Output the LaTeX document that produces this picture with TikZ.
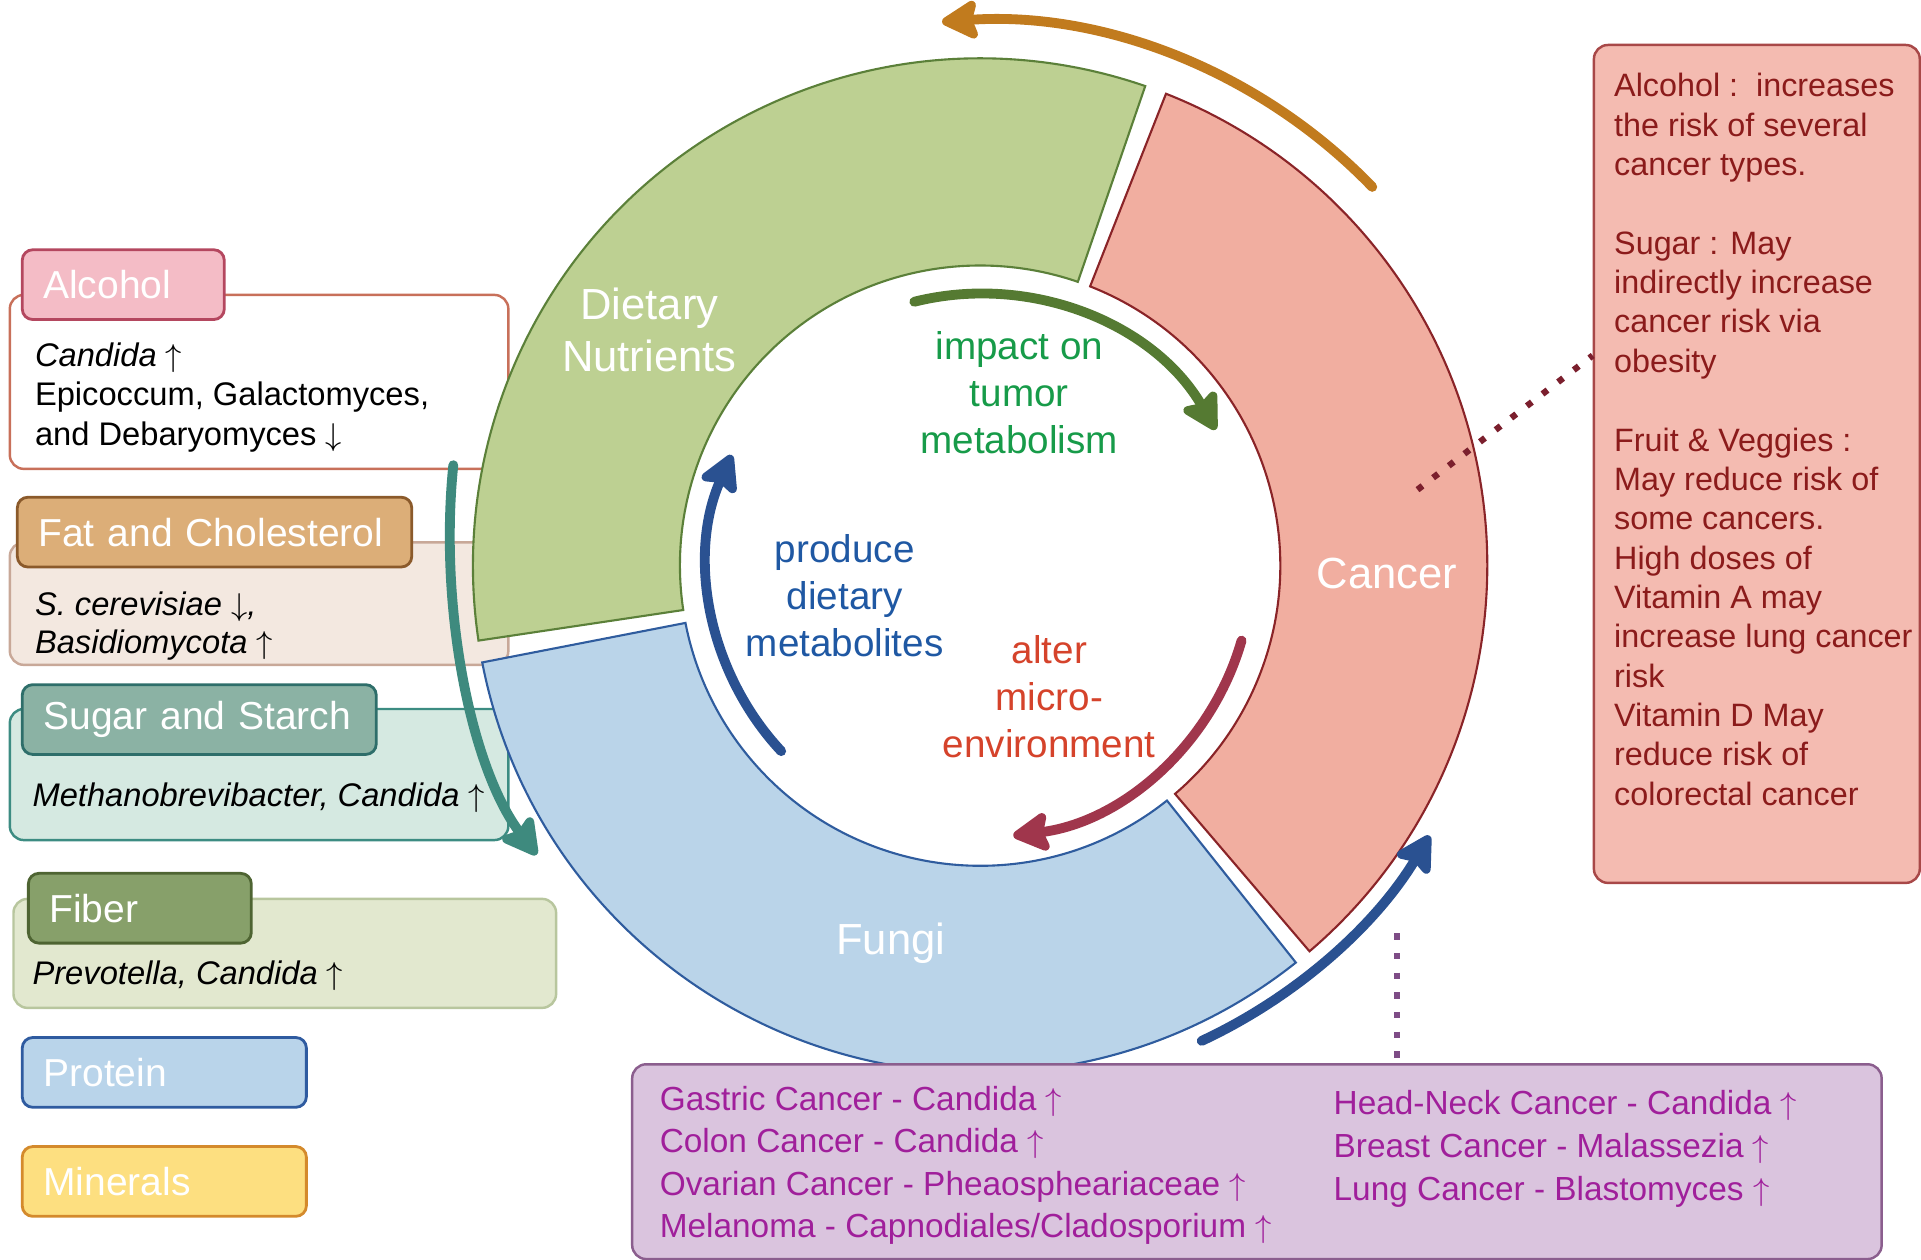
\documentclass[tikz,border=0pt]{standalone}
\usepackage{fontspec}
\setmainfont{Liberation Sans}
\usepackage{xcolor}
\usepackage{tikz}
\usetikzlibrary{calc, arrows.meta, positioning}

\definecolor{alcfill}{HTML}{F4BCC6}
\definecolor{alcline}{HTML}{B4475F}
\definecolor{alcbody}{HTML}{C8705A}
\definecolor{fatfill}{HTML}{DCAE78}
\definecolor{fatline}{HTML}{8B5A2B}
\definecolor{fatbody}{HTML}{F3E8E0}
\definecolor{fatbodyline}{HTML}{C8A898}
\definecolor{sugfill}{HTML}{8BB2A4}
\definecolor{sugline}{HTML}{2E6E6A}
\definecolor{sugbody}{HTML}{D5E9E1}
\definecolor{sugbodyline}{HTML}{3C8C82}
\definecolor{fibfill}{HTML}{87A06A}
\definecolor{fibline}{HTML}{4E6432}
\definecolor{fibbody}{HTML}{E2E8CF}
\definecolor{fibbodyline}{HTML}{B8C69E}
\definecolor{profill}{HTML}{B9D4EA}
\definecolor{proline}{HTML}{2F5BA0}
\definecolor{minfill}{HTML}{FDDF80}
\definecolor{minline}{HTML}{D48A2C}
\definecolor{nutfill}{HTML}{BDD092}
\definecolor{nutline}{HTML}{5B8039}
\definecolor{canfill}{HTML}{F1AEA0}
\definecolor{canline}{HTML}{8A2428}
\definecolor{funfill}{HTML}{BAD4E9}
\definecolor{funline}{HTML}{2F5C9E}
\definecolor{riskfill}{HTML}{F4BBB1}
\definecolor{riskline}{HTML}{A84848}
\definecolor{risktext}{HTML}{8B1B1B}
\definecolor{typefill}{HTML}{DAC4DE}
\definecolor{typeline}{HTML}{8B5E8E}
\definecolor{typetext}{HTML}{A01F9B}
\definecolor{orangearrow}{HTML}{C17B1E}
\definecolor{greenarrow}{HTML}{557A32}
\definecolor{bluearrow}{HTML}{2A5191}
\definecolor{redarrow}{HTML}{A0364C}
\definecolor{tealarrow}{HTML}{3E8A7E}
\definecolor{greentext}{HTML}{179B49}
\definecolor{bluetext}{HTML}{1F58A3}
\definecolor{redtext}{HTML}{D5432B}
\definecolor{dotred}{HTML}{7B1F2D}
\definecolor{dotpurple}{HTML}{7E4C86}

\newcommand{\fungiup}{$\uparrow$}
\newcommand{\fungidown}{$\downarrow$}

\tikzset{
    headnode/.style = {draw, rectangle, rounded corners=3pt, line width=0.8pt, anchor=north west,
      inner xsep=6pt, inner ysep=0pt, minimum height=0.698cm, align=left, text=white,
      font=\fontsize{11.1}{13}\selectfont},
    bodynode/.style = {draw, rectangle, rounded corners=4pt, line width=0.7pt, anchor=north west, inner sep=0pt},
    textnode/.style = {draw=none, fill=none, inner sep=0pt, anchor=west, align=left,
      font=\fontsize{9.3}{11.2}\selectfont},
    segment/.style = {line width=0.6pt},
    ringtext/.style = {text=white, align=center, font=\fontsize{12.4}{15}\selectfont},
    innertext/.style = {align=center, font=\fontsize{11}{13.4}\selectfont},
    connect/.style = {line width=2.8pt, line cap=round,
      -{Stealth[length=12pt, width=13pt, inset=2pt, round]}},
    dotline/.style = {line width=1.8pt, dash pattern=on 1.8pt off 3.8pt}
}

\begin{document}
\begin{tikzpicture}[x=0.012251cm, y=0.012251cm]
    \useasboundingbox (0,0) rectangle (1568,1027.7);

    \node [bodynode, name=alcbox, fill=white, draw=alcbody, minimum width=4.986cm, minimum height=1.740cm] at (7,788) {};
    \node [headnode, name=alcohol, fill=alcfill, draw=alcline, text width=1.599cm] at (17,825) {Alcohol};
    \node [textnode, name=alctext] at (28,703.5) {\textit{Candida} \fungiup\\Epicoccum, Galactomyces,\\and Debaryomyces \fungidown};

    \node [bodynode, name=fatbox, fill=fatbody, draw=fatbodyline, minimum width=4.986cm, minimum height=1.225cm] at (7,586) {};
    \node [headnode, name=fat, fill=fatfill, draw=fatline, text width=3.523cm] at (13,623) {Fat and Cholesterol};
    \node [textnode, name=fattext, font=\fontsize{9.3}{10.8}\selectfont\itshape] at (28,516.5) {S. cerevisiae \fungidown,\\Basidiomycota \fungiup};

    \node [bodynode, name=sugbox, fill=sugbody, draw=sugbodyline, minimum width=4.986cm, minimum height=1.311cm] at (7,450) {};
    \node [headnode, name=sugar, fill=sugfill, draw=sugline, text width=3.119cm] at (17,470) {Sugar and Starch};
    \node [textnode, name=sugtext, font=\fontsize{9.3}{11.2}\selectfont\itshape] at (26,376.5) {Methanobrevibacter, Candida \fungiup};

    \node [bodynode, name=fibbox, fill=fibbody, draw=fibbodyline, minimum width=5.427cm, minimum height=1.090cm] at (10,295) {};
    \node [headnode, name=fiber, fill=fibfill, draw=fibline, text width=1.808cm] at (22,316) {Fiber};
    \node [textnode, name=fibtext, font=\fontsize{9.3}{11.2}\selectfont\itshape] at (26,231) {Prevotella, Candida \fungiup};

    \node [headnode, name=protein, fill=profill, draw=proline, text width=2.420cm] at (17,182) {Protein};
    \node [headnode, name=minerals, fill=minfill, draw=minline, text width=2.420cm] at (17,93) {Minerals};

    \coordinate (C) at (800,566);
    \filldraw [segment, fill=nutfill, draw=nutline] ([shift={(71:414)}]C) arc[start angle=71, end angle=188.5, radius=414]
      -- ([shift={(188.5:245)}]C) arc[start angle=188.5, end angle=71, radius=245] -- cycle;
    \filldraw [segment, fill=funfill, draw=funline] ([shift={(191:414)}]C) arc[start angle=191, end angle=308.5, radius=414]
      -- ([shift={(308.5:245)}]C) arc[start angle=308.5, end angle=191, radius=245] -- cycle;
    \filldraw [segment, fill=canfill, draw=canline] ([shift={(-49.5:414)}]C) arc[start angle=-49.5, end angle=68.5, radius=414]
      -- ([shift={(68.5:245)}]C) arc[start angle=68.5, end angle=-49.5, radius=245] -- cycle;

    \node [ringtext, name=nutrients] at (530,758.5) {Dietary\\Nutrients};
    \node [ringtext, name=cancer] at (1132,560) {Cancer};
    \node [ringtext, name=fungi] at (727,258) {Fungi};

    \node [innertext, name=impact, text=greentext] at (832,707.5) {impact on\\tumor\\metabolism};
    \node [innertext, name=produce, text=bluetext] at (689.5,541.5) {produce\\dietary\\metabolites};
    \node [innertext, name=alter, text=redtext] at (856.5,459) {alter\\micro-\\environment};

    \draw [connect, color=greenarrow] ([shift={(104:222)}]C) arc[start angle=104, end angle=30, radius=222];
    \draw [connect, color=bluearrow] ([shift={(223:222)}]C) arc[start angle=223, end angle=156, radius=222];
    \draw [connect, color=redarrow] ([shift={(-16:222)}]C) arc[start angle=-16, end angle=-83, radius=222];
    \draw [connect, color=orangearrow] ([shift={(44:445)}]C) arc[start angle=44, end angle=94, radius=445];
    \draw [connect, color=bluearrow] ([shift={(-65:428)}]C) arc[start angle=-65, end angle=-31, radius=428];

    \coordinate (sugstart) at (370,648);
    \coordinate (sugend) at (438,330);
    \draw [connect, color=tealarrow] (sugstart) .. controls (358,530) and (385,400) .. (sugend);

    \node [bodynode, name=risks, fill=riskfill, draw=riskline, minimum width=3.259cm, minimum height=8.380cm] at (1300,992) {};
    \node [textnode, name=risktext, text=risktext, font=\fontsize{9.2}{11.2}\selectfont] at (1317,669)
      {Alcohol :~~increases\\the risk of several\\cancer types.\\[11.2pt]Sugar : May\\indirectly increase\\cancer risk via\\obesity\\[11.2pt]%
       Fruit \& Veggies :\\May reduce risk of\\some cancers.\\High doses of\\Vitamin A may\\increase lung cancer\\risk\\Vitamin D May\\reduce risk of\\colorectal cancer};

    \node [bodynode, name=types, fill=typefill, draw=typeline, minimum width=12.496cm, minimum height=1.948cm] at (515,160) {};
    \node [textnode, name=typesleft, text=typetext, font=\fontsize{9.5}{12}\selectfont] at (538,76.5)
      {Gastric Cancer - Candida \fungiup\\Colon Cancer - Candida \fungiup\\Ovarian Cancer - Pheaospheariaceae \fungiup\\Melanoma - Capnodiales/Cladosporium \fungiup};
    \node [textnode, name=typesright, text=typetext, font=\fontsize{9.5}{12.2}\selectfont] at (1088,90)
      {Head-Neck Cancer - Candida \fungiup\\Breast Cancer - Malassezia \fungiup\\Lung Cancer - Blastomyces \fungiup};

    \coordinate (cancerdot) at (1157,628);
    \draw [dotline, color=dotred] (cancerdot) -- ($(risks.north west)!0.371!(risks.south west)$);
    \coordinate (fungidot) at (1140,266);
    \draw [dotline, color=dotpurple] (fungidot) -- (fungidot |- types.north);
\end{tikzpicture}
\end{document}
